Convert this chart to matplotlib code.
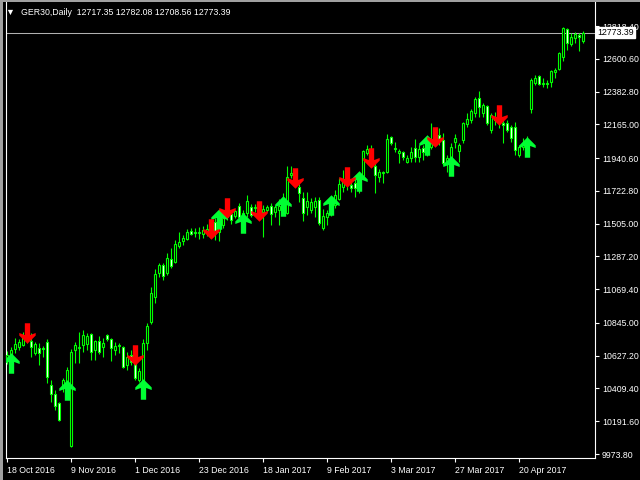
import numpy as np
import matplotlib
matplotlib.use('Agg')
import matplotlib.pyplot as plt
from matplotlib.path import Path
from matplotlib.patches import Rectangle

# --- chart data ---
symbol = 'GER30,Daily'
last_bar = [12717.35, 12782.08, 12708.56, 12773.39]

opens = [
    10599, 10618, 10672, 10685, 10698, 10758, 10725, 10645, 10678, 10678,
    10718, 10433, 10373, 10313, 10426, 10452, 10027, 10665, 10678, 10698,
    10705, 10771, 10665, 10725, 10685, 10765, 10738, 10665, 10692, 10685,
    10565, 10632, 10579, 10466, 10452, 10712, 10851, 11017, 11177, 11230,
    11177, 11270, 11250, 11356, 11389, 11403, 11456, 11449, 11443, 11436,
    11449, 11463, 11516, 11449, 11496, 11549, 11569, 11555, 11622, 11549,
    11575, 11615, 11609, 11615, 11582, 11596, 11622, 11582, 11596, 11582,
    11575, 11828, 11835, 11748, 11675, 11615, 11596, 11615, 11662, 11476,
    11549, 11575, 11629, 11669, 11748, 11795, 11762, 11775, 11742, 11821,
    11974, 11994, 11888, 11815, 11841, 11848, 12081, 12008, 11974, 11981,
    11915, 11941, 12008, 11948, 12008, 11981, 12014, 12061, 12094, 12061,
    11908, 11941, 12047, 11988, 12061, 12167, 12194, 12240, 12340, 12240,
    12287, 12127, 12207, 12194, 12174, 12174, 12147, 12147, 11961, 12014,
    12041, 12267, 12440, 12486, 12433, 12440, 12446, 12513, 12533, 12612,
    12799, 12699, 12739, 12759, 12717.35]
highs = [
    10658, 10685, 10745, 10738, 10785, 10798, 10778, 10718, 10712, 10692,
    10738, 10466, 10399, 10320, 10479, 10552, 10672, 10718, 10785, 10798,
    10778, 10778, 10732, 10758, 10745, 10771, 10745, 10718, 10712, 10692,
    10652, 10665, 10612, 10545, 10738, 10845, 11084, 11203, 11243, 11243,
    11310, 11343, 11396, 11449, 11429, 11469, 11476, 11476, 11482, 11489,
    11502, 11529, 11542, 11529, 11582, 11596, 11589, 11596, 11642, 11596,
    11695, 11635, 11635, 11642, 11629, 11629, 11642, 11629, 11669, 11708,
    11888, 11888, 11861, 11768, 11715, 11715, 11675, 11682, 11682, 11602,
    11596, 11662, 11728, 11808, 11861, 11828, 11795, 11808, 11841, 11994,
    12028, 12028, 11908, 11868, 11855, 12101, 12087, 12047, 12001, 11988,
    11961, 12014, 12067, 12028, 12028, 12041, 12174, 12127, 12140, 12107,
    11961, 12041, 12101, 12041, 12180, 12240, 12267, 12347, 12386, 12307,
    12293, 12240, 12247, 12234, 12194, 12194, 12160, 12180, 12028, 12074,
    12087, 12473, 12493, 12493, 12473, 12460, 12526, 12539, 12646, 12812,
    12805, 12772, 12779, 12772, 12782.08]
lows = [
    10572, 10585, 10645, 10665, 10692, 10712, 10618, 10632, 10565, 10618,
    10446, 10320, 10266, 10193, 10386, 10419, 10020, 10579, 10579, 10652,
    10665, 10599, 10599, 10638, 10618, 10725, 10592, 10632, 10645, 10545,
    10532, 10565, 10466, 10452, 10439, 10665, 10838, 10977, 11150, 11130,
    11163, 11210, 11243, 11343, 11363, 11396, 11429, 11416, 11403, 11409,
    11423, 11436, 11396, 11389, 11476, 11529, 11502, 11542, 11542, 11496,
    11549, 11549, 11582, 11542, 11416, 11582, 11496, 11549, 11496, 11562,
    11569, 11808, 11775, 11649, 11522, 11562, 11575, 11549, 11496, 11463,
    11496, 11555, 11609, 11662, 11715, 11728, 11715, 11682, 11708, 11808,
    11961, 11915, 11708, 11781, 11775, 11841, 12028, 11981, 11908, 11928,
    11908, 11915, 11915, 11915, 11928, 11955, 12001, 12028, 12028, 11895,
    11848, 11928, 12008, 11915, 12041, 12147, 12174, 12214, 12214, 12214,
    12160, 12107, 12160, 12140, 12041, 12114, 12047, 11961, 11948, 11994,
    12008, 12240, 12426, 12426, 12413, 12406, 12413, 12473, 12526, 12586,
    12659, 12685, 12705, 12652, 12708.56]
closes = [
    10632, 10665, 10705, 10718, 10751, 10732, 10685, 10705, 10645, 10672,
    10486, 10373, 10293, 10200, 10466, 10532, 10652, 10698, 10685, 10765,
    10758, 10652, 10725, 10652, 10712, 10738, 10678, 10692, 10698, 10552,
    10618, 10585, 10479, 10525, 10712, 10825, 11044, 11170, 11230, 11157,
    11277, 11223, 11369, 11383, 11409, 11449, 11436, 11443, 11449, 11463,
    11469, 11489, 11449, 11496, 11542, 11575, 11529, 11589, 11549, 11575,
    11655, 11562, 11615, 11582, 11602, 11615, 11569, 11615, 11622, 11662,
    11815, 11841, 11795, 11708, 11575, 11655, 11649, 11655, 11509, 11555,
    11575, 11629, 11695, 11768, 11795, 11762, 11742, 11742, 11795, 11988,
    12001, 11948, 11828, 11848, 11848, 12067, 12041, 12001, 11988, 11948,
    11941, 11981, 11948, 12001, 11981, 12014, 12061, 12094, 12061, 11908,
    11941, 12014, 12074, 12028, 12174, 12200, 12254, 12333, 12280, 12293,
    12174, 12227, 12194, 12174, 12160, 12127, 12074, 11994, 12014, 12041,
    12061, 12460, 12473, 12433, 12440, 12433, 12519, 12526, 12639, 12805,
    12705, 12745, 12765, 12745, 12773.39]

# signal arrows: bar index + price of arrow centre
buy_bars = [1, 15, 34, 53, 59, 69, 81, 88, 105, 111, 130]
buy_prices = [10579, 10396, 10406, 11536, 11509, 11619, 11629, 11785, 12027, 11885, 12011]
sell_bars = [5, 32, 51, 55, 63, 72, 85, 91, 107, 123]
sell_prices = [10775, 10635, 11466, 11612, 11592, 11805, 11818, 11944, 12084, 12230]

date_ticks = [0, 16, 32, 48, 64, 80, 96, 112, 128]
date_labels = ['18 Oct 2016', '9 Nov 2016', '1 Dec 2016', '23 Dec 2016', '18 Jan 2017',
               '9 Feb 2017', '3 Mar 2017', '27 Mar 2017', '20 Apr 2017']
price_ticks = [12818.40, 12600.60, 12382.80, 12165.00, 11940.60, 11722.80, 11505.00,
               11287.20, 11069.40, 10845.00, 10627.20, 10409.40, 10191.60, 9973.80]

LIME = '#00ff00'
FONT = ['Liberation Sans', 'DejaVu Sans']
FS = 6.3
plt.rcParams['font.family'] = FONT

W, H = 640, 480
fig = plt.figure(figsize=(6.4, 4.8), dpi=100, facecolor='black')
# plot area in pixels: x 5.5..595, y 2..458 (from top)
ax = fig.add_axes([5.5 / W, (H - 458) / H, (595 - 5.5) / W, 456 / H])
ax.set_facecolor('black')

# price scale: 6.646 points per pixel, 12991.2 at pixel row 0
ax.set_ylim(12991.2 - 6.646 * 458, 12991.2 - 6.646 * 2)
ax.set_xlim(-0.375, 147)

o = np.array(opens, dtype=float)
c = np.array(closes, dtype=float)
x = np.arange(len(o))
bull = c >= o

ax.axhline(closes[-1], color='#b0b0b0', lw=0.75, zorder=1)

ax.vlines(x, lows, highs, color=LIME, lw=0.8, zorder=2)
body_lo = np.minimum(o, c)
body_h = np.maximum(np.abs(c - o), 2.0)
ax.bar(x, body_h, bottom=body_lo, width=0.72,
       color=np.where(bull, 'black', 'white'), edgecolor=LIME, lw=0.8, zorder=3)

# thick barbed arrow marker (up); the down arrow is its mirror image
up_verts = [(0, 10), (8, 2), (8, -0.5), (2.6, 1.5), (2.6, -10),
            (-2.6, -10), (-2.6, 1.5), (-8, -0.5), (-8, 2), (0, 10)]
up_path = Path(up_verts, [Path.MOVETO] + [Path.LINETO] * 8 + [Path.CLOSEPOLY])
down_path = Path([(vx, -vy) for vx, vy in up_verts], up_path.codes)
ms = 20.5 * 72 / 100
ax.plot(buy_bars, buy_prices, ls='none', marker=up_path, ms=ms,
        color='#00ff33', mew=0, zorder=5)
ax.plot(sell_bars, sell_prices, ls='none', marker=down_path, ms=ms,
        color='#ff0000', mew=0, zorder=6)

# axes styling like the terminal
for side in ['left', 'right', 'bottom']:
    ax.spines[side].set_color('white')
    ax.spines[side].set_linewidth(0.8)
ax.spines['top'].set_visible(False)

ax.yaxis.tick_right()
ax.set_yticks(price_ticks)
ax.set_yticklabels([f'{p:.2f}' for p in price_ticks])
ax.set_xticks(date_ticks)
ax.set_xticklabels(date_labels)
ax.tick_params(axis='both', colors='white', labelcolor='white', labelsize=FS,
               direction='out', length=3, width=0.8)
ax.tick_params(axis='y', pad=2)
ax.tick_params(axis='x', pad=3)
for lbl in ax.get_xticklabels():
    lbl.set_ha('left')

# current price tag (sits over the top scale label, as in the terminal)
ax.text(1.004, closes[-1], f'{closes[-1]:.2f}', transform=ax.get_yaxis_transform(),
        ha='left', va='center', fontsize=FS, color='black',
        bbox=dict(boxstyle='square,pad=0.12', facecolor='white', edgecolor='white'),
        zorder=10, clip_on=False)

# header line
fig.text(9.5 / W, 1 - 12.5 / H, '▼', color='white', fontsize=6.5, ha='center', va='center')
fig.text(21 / W, 1 - 12.5 / H,
         f'{symbol}  ' + ' '.join(f'{v:.2f}' for v in last_bar),
         color='white', fontsize=FS, ha='left', va='center')

# window frame
fig.patches.append(Rectangle((0, 0), 3 / W, 1, transform=fig.transFigure,
                             facecolor='#a0a0a0', edgecolor='none'))
fig.patches.append(Rectangle((0, 1 - 2 / H), 1, 2 / H, transform=fig.transFigure,
                             facecolor='#a0a0a0', edgecolor='none'))

fig.savefig('out.png', dpi=100, facecolor='black')
